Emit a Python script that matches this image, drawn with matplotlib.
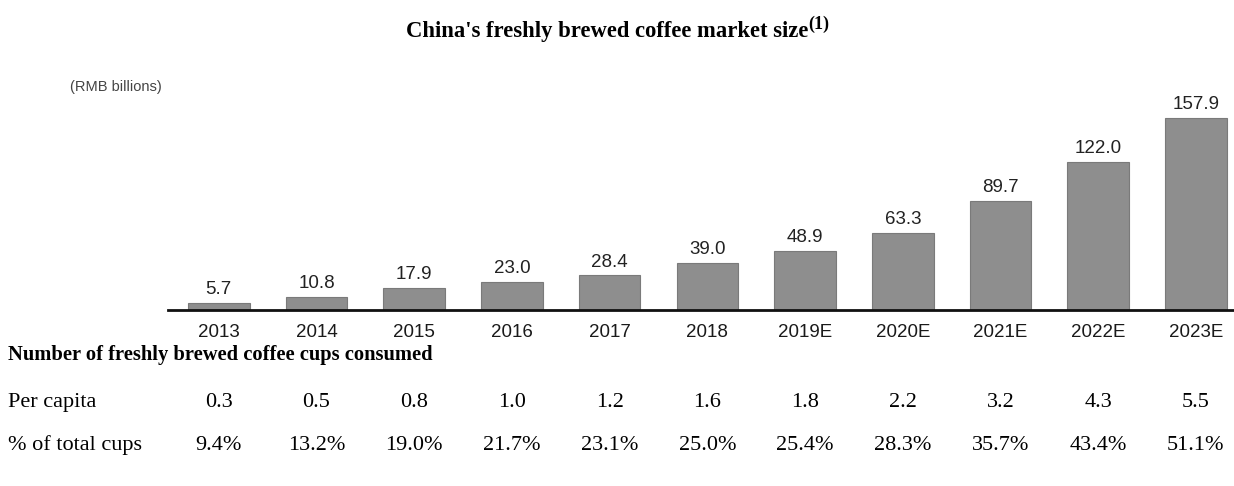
import numpy as np
import matplotlib.pyplot as plt
from matplotlib.transforms import blended_transform_factory

# ==========================
# Datos
# ==========================
years = ["2013", "2014", "2015", "2016", "2017", "2018",
         "2019E", "2020E", "2021E", "2022E", "2023E"]
market_size = [5.7, 10.8, 17.9, 23.0, 28.4, 39.0, 48.9, 63.3, 89.7, 122.0, 157.9]
per_capita = ["0.3", "0.5", "0.8", "1.0", "1.2", "1.6", "1.8", "2.2", "3.2", "4.3", "5.5"]
pct_total = ["9.4%", "13.2%", "19.0%", "21.7%", "23.1%", "25.0%",
             "25.4%", "28.3%", "35.7%", "43.4%", "51.1%"]

W, H = 1234, 486
sans = "Liberation Sans"
serif = "Liberation Serif"

fig = plt.figure(figsize=(W / 100, H / 100), dpi=100)

# Ejes en coordenadas de pixel
left, right = 168, 1234
base_y, top_y = 310, 60
ax = fig.add_axes([left / W, 1 - base_y / H, (right - left) / W, (base_y - top_y) / H])

x = np.arange(len(years))
ax.bar(x, market_size, width=0.63, color="#8e8e8e", edgecolor="#7a7a7a", linewidth=0.8)

for xi, v in zip(x, market_size):
    ax.text(xi, v + 4, f"{v:.1f}", ha="center", va="bottom",
            fontsize=13.5, family=sans, color="#222222")

ax.set_xlim(-0.52, 10.39)
ax.set_ylim(0, (base_y - top_y) / (192 / 157.9))
ax.set_xticks(x)
ax.set_xticklabels(years, fontsize=13.5, family=sans, color="#1a1a1a")
ax.tick_params(axis="x", length=0, pad=10)
ax.set_yticks([])
for s in ["top", "right", "left"]:
    ax.spines[s].set_visible(False)
ax.spines["bottom"].set_linewidth(2)
ax.spines["bottom"].set_color("#111111")

# Titulo (con superindice) y unidad
title = fig.text(607.5 / W, 1 - 31 / H, "China's freshly brewed coffee market size",
                 ha="center", va="center", fontsize=16.3, fontweight="bold", family=serif)
ax.annotate("(1)", xy=(1, 0.42), xycoords=title, xytext=(0, 0), textcoords="offset points",
            ha="left", va="bottom", fontsize=13, fontweight="bold", family=serif,
            annotation_clip=False)
fig.text(70 / W, 1 - 87 / H, "(RMB billions)", ha="left", va="center",
         fontsize=10.5, family=sans, color="#444444")

# Tabla inferior
fig.text(8 / W, 1 - 355 / H, "Number of freshly brewed coffee cups consumed",
         ha="left", va="center", fontsize=14.8, fontweight="bold", family=serif)
fig.text(8 / W, 1 - 402 / H, "Per capita", ha="left", va="center",
         fontsize=16, family=serif)
fig.text(8 / W, 1 - 445 / H, "% of total cups", ha="left", va="center",
         fontsize=16, family=serif)

trans = blended_transform_factory(ax.transData, fig.transFigure)
for xi, pc, pt in zip(x, per_capita, pct_total):
    fig.text(xi, 1 - 402 / H, pc, transform=trans, ha="center", va="center",
             fontsize=16, family=serif)
    fig.text(xi, 1 - 445 / H, pt, transform=trans, ha="center", va="center",
             fontsize=16, family=serif)

plt.savefig("out.png", dpi=100)
